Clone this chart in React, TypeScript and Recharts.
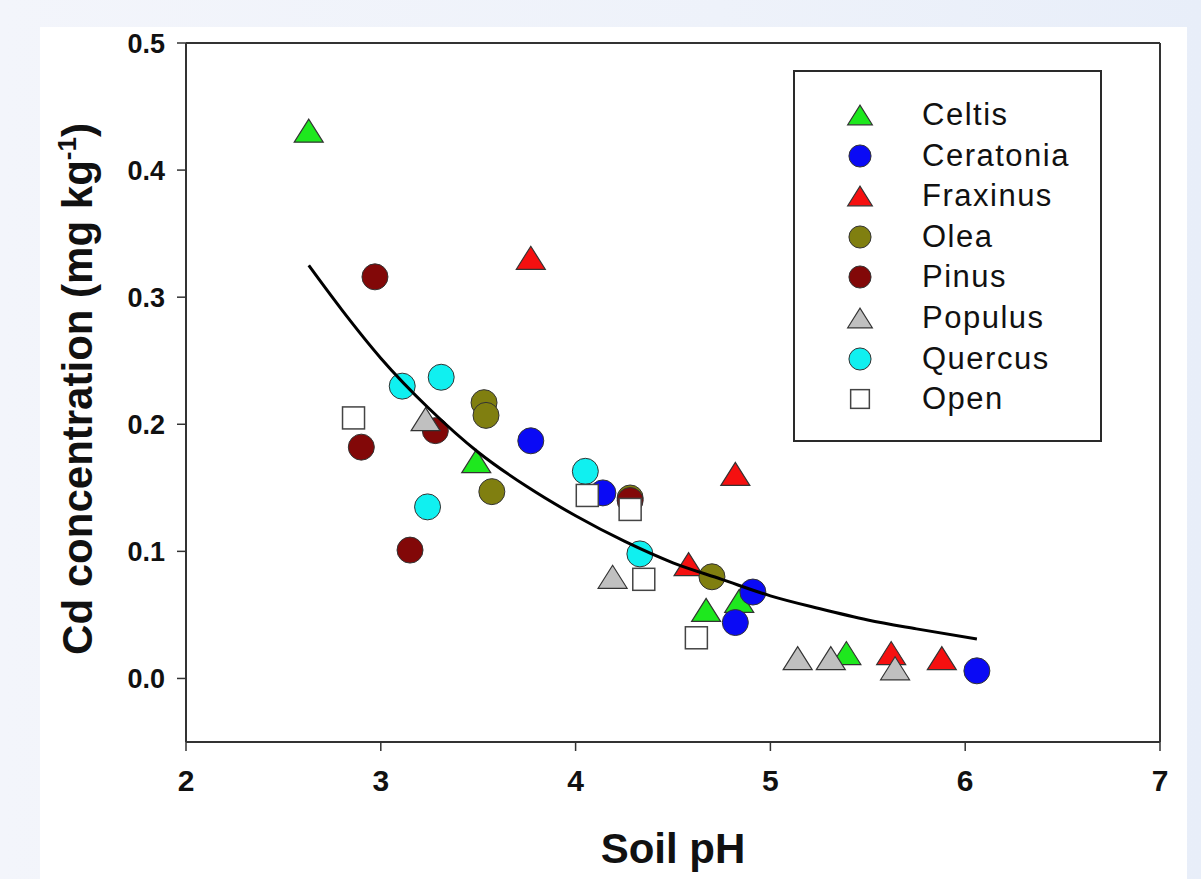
import React from 'react';
import { ScatterChart, Scatter, XAxis, YAxis, ReferenceLine, Legend } from 'recharts';

// soil pH (x) vs Cd concentration (y)
const celtis = [
  { ph: 2.63, cd: 0.431 },
  { ph: 3.49, cd: 0.171 },
  { ph: 4.67, cd: 0.054 },
  { ph: 4.84, cd: 0.061 },
  { ph: 5.39, cd: 0.02 },
];
const ceratonia = [
  { ph: 3.77, cd: 0.187 },
  { ph: 4.14, cd: 0.146 },
  { ph: 4.82, cd: 0.044 },
  { ph: 4.91, cd: 0.068 },
  { ph: 6.06, cd: 0.006 },
];
const fraxinus = [
  { ph: 3.77, cd: 0.331 },
  { ph: 4.82, cd: 0.161 },
  { ph: 4.58, cd: 0.09 },
  { ph: 5.62, cd: 0.02 },
  { ph: 5.88, cd: 0.016 },
];
const olea = [
  { ph: 3.53, cd: 0.217 },
  { ph: 3.54, cd: 0.207 },
  { ph: 3.57, cd: 0.147 },
  { ph: 4.28, cd: 0.142 },
  { ph: 4.7, cd: 0.08 },
];
const pinus = [
  { ph: 2.97, cd: 0.316 },
  { ph: 2.9, cd: 0.182 },
  { ph: 3.28, cd: 0.195 },
  { ph: 3.15, cd: 0.101 },
  { ph: 4.28, cd: 0.14 },
];
const populus = [
  { ph: 3.23, cd: 0.204 },
  { ph: 4.19, cd: 0.08 },
  { ph: 5.14, cd: 0.016 },
  { ph: 5.31, cd: 0.016 },
  { ph: 5.64, cd: 0.008 },
];
const quercus = [
  { ph: 3.11, cd: 0.23 },
  { ph: 3.31, cd: 0.237 },
  { ph: 3.24, cd: 0.135 },
  { ph: 4.05, cd: 0.163 },
  { ph: 4.33, cd: 0.098 },
];
const open = [
  { ph: 2.86, cd: 0.205 },
  { ph: 4.06, cd: 0.144 },
  { ph: 4.28, cd: 0.133 },
  { ph: 4.35, cd: 0.078 },
  { ph: 4.62, cd: 0.032 },
];

// fitted curve, points
const fitCurve = [
  { ph: 2.63, cd: 0.325 },
  { ph: 2.8, cd: 0.29 },
  { ph: 3.0, cd: 0.252 },
  { ph: 3.25, cd: 0.212 },
  { ph: 3.5, cd: 0.178 },
  { ph: 3.75, cd: 0.151 },
  { ph: 4.0, cd: 0.128 },
  { ph: 4.25, cd: 0.108 },
  { ph: 4.5, cd: 0.091 },
  { ph: 4.75, cd: 0.078 },
  { ph: 5.0, cd: 0.065 },
  { ph: 5.25, cd: 0.055 },
  { ph: 5.5, cd: 0.046 },
  { ph: 5.75, cd: 0.039 },
  { ph: 6.06, cd: 0.031 },
];

const xTicks = [2, 3, 4, 5, 6, 7];
const yTicks = [0, 0.1, 0.2, 0.3, 0.4, 0.5];

type Kind = 'triangle' | 'circle' | 'square';

const series: { name: string; data: { ph: number; cd: number }[]; color: string; kind: Kind }[] = [
  { name: 'Celtis', data: celtis, color: '#1ee81e', kind: 'triangle' },
  { name: 'Ceratonia', data: ceratonia, color: '#0a0af5', kind: 'circle' },
  { name: 'Fraxinus', data: fraxinus, color: '#f51010', kind: 'triangle' },
  { name: 'Olea', data: olea, color: '#807f10', kind: 'circle' },
  { name: 'Pinus', data: pinus, color: '#820808', kind: 'circle' },
  { name: 'Populus', data: populus, color: '#c0c0c0', kind: 'triangle' },
  { name: 'Quercus', data: quercus, color: '#10f0f0', kind: 'circle' },
  { name: 'Open', data: open, color: '#ffffff', kind: 'square' },
];

const Marker = ({ cx, cy, kind, fill, scale = 1 }: { cx: number; cy: number; kind: Kind; fill: string; scale?: number }) => {
  if (cx == null || cy == null) return <g />;
  if (kind === 'triangle') {
    const w = 29 * scale;
    const h = 23 * scale;
    return (
      <polygon
        points={`${cx - w / 2},${cy + h / 2} ${cx + w / 2},${cy + h / 2} ${cx},${cy - h / 2}`}
        fill={fill}
        stroke="#333"
        strokeWidth={1.2}
      />
    );
  }
  if (kind === 'square') {
    const s = 22 * scale;
    return <rect x={cx - s / 2} y={cy - s / 2} width={s} height={s} fill={fill} stroke="#444" strokeWidth={1.5} />;
  }
  return <circle cx={cx} cy={cy} r={13 * scale} fill={fill} stroke="#333" strokeWidth={1} />;
};

const LegendBox = () => (
  <div
    style={{
      position: 'absolute',
      left: 793,
      top: 70,
      width: 309,
      height: 372,
      boxSizing: 'border-box',
      border: '2px solid #2a2a2a',
      background: '#fff',
    }}
  >
    {series.map((s, i) => (
      <div key={s.name} style={{ position: 'absolute', left: 0, top: 23 + i * 40.6, height: 40, width: '100%' }}>
        <svg width={40} height={40} style={{ position: 'absolute', left: 45, top: 0 }}>
          <Marker cx={20} cy={20} kind={s.kind} fill={s.color} scale={0.85} />
        </svg>
        <span
          style={{
            position: 'absolute',
            left: 127,
            top: 0,
            lineHeight: '40px',
            fontFamily: '"Liberation Sans", Arial, sans-serif',
            fontSize: 31,
            letterSpacing: 1.5,
            color: '#111',
          }}
        >
          {s.name}
        </span>
      </div>
    ))}
  </div>
);

const YLabel = () => (
  <text
    x={92}
    y={389}
    transform="rotate(-90, 92, 389)"
    textAnchor="middle"
    fontFamily='"Liberation Sans", Arial, sans-serif'
    fontWeight="bold"
    fontSize={42}
    fill="#111"
  >
    Cd concentration (mg kg
    <tspan dy={-16} fontSize={26}>
      -1
    </tspan>
    <tspan dy={16}>)</tspan>
  </text>
);

const XLabel = () => (
  <text
    x={673}
    y={863}
    textAnchor="middle"
    fontFamily='"Liberation Sans", Arial, sans-serif'
    fontWeight="bold"
    fontSize={42}
    fill="#111"
  >
    Soil pH
  </text>
);

export default function App() {
  return (
    <div
      style={{
        position: 'fixed',
        left: 0,
        top: 0,
        width: 1201,
        height: 879,
        overflow: 'hidden',
        background: 'linear-gradient(90deg, #f3f5fb 0%, #eef2fa 60%, #e8eef9 100%)',
      }}
    >
      <div style={{ position: 'absolute', left: 40, top: 27, width: 1147, height: 852, background: '#fff' }} />
      <div style={{ position: 'absolute', left: 0, top: 0 }}>
        <ScatterChart width={1201} height={879} margin={{ top: 43, right: 41, bottom: 77, left: 106 }}>
          <XAxis
            type="number"
            dataKey="ph"
            domain={[2, 7]}
            ticks={xTicks}
            allowDataOverflow
            height={60}
            tickSize={9}
            tickMargin={19}
            axisLine={{ stroke: '#333', strokeWidth: 2 }}
            tickLine={{ stroke: '#333', strokeWidth: 1.5 }}
            tick={{
              fontFamily: '"Liberation Sans Narrow", "Arial Narrow", "Liberation Sans", sans-serif',
              fontWeight: 'bold',
              fontSize: 30,
              fill: '#111',
            }}
            label={{ content: () => <XLabel /> }}
          />
          <YAxis
            type="number"
            dataKey="cd"
            domain={[-0.05, 0.5]}
            ticks={yTicks}
            allowDataOverflow
            width={80}
            tickSize={9}
            tickMargin={12}
            tickFormatter={(v: number) => v.toFixed(1)}
            axisLine={{ stroke: '#333', strokeWidth: 2 }}
            tickLine={{ stroke: '#333', strokeWidth: 1.5 }}
            tick={{
              fontFamily: '"Liberation Sans", Arial, sans-serif',
              fontWeight: 'bold',
              fontSize: 27,
              fill: '#111',
            }}
            label={{ content: () => <YLabel /> }}
          />
          <ReferenceLine y={0.5} stroke="#333" strokeWidth={2} />
          <ReferenceLine x={7} stroke="#333" strokeWidth={2} />
          {series.map((s) => (
            <Scatter
              key={s.name}
              name={s.name}
              data={s.data}
              isAnimationActive={false}
              shape={(p: any) => <Marker cx={p.cx} cy={p.cy} kind={s.kind} fill={s.color} />}
            />
          ))}
          <Scatter
            name="fit"
            data={fitCurve}
            isAnimationActive={false}
            line={{ stroke: '#000', strokeWidth: 3 }}
            lineJointType="monotoneX"
            shape={() => <g />}
            legendType="none"
          />
          <Legend
            layout="vertical"
            align="center"
            verticalAlign="middle"
            wrapperStyle={{ position: 'absolute', left: 0, top: 0, width: 0, height: 0 }}
            content={() => <LegendBox />}
          />
        </ScatterChart>
      </div>
    </div>
  );
}
